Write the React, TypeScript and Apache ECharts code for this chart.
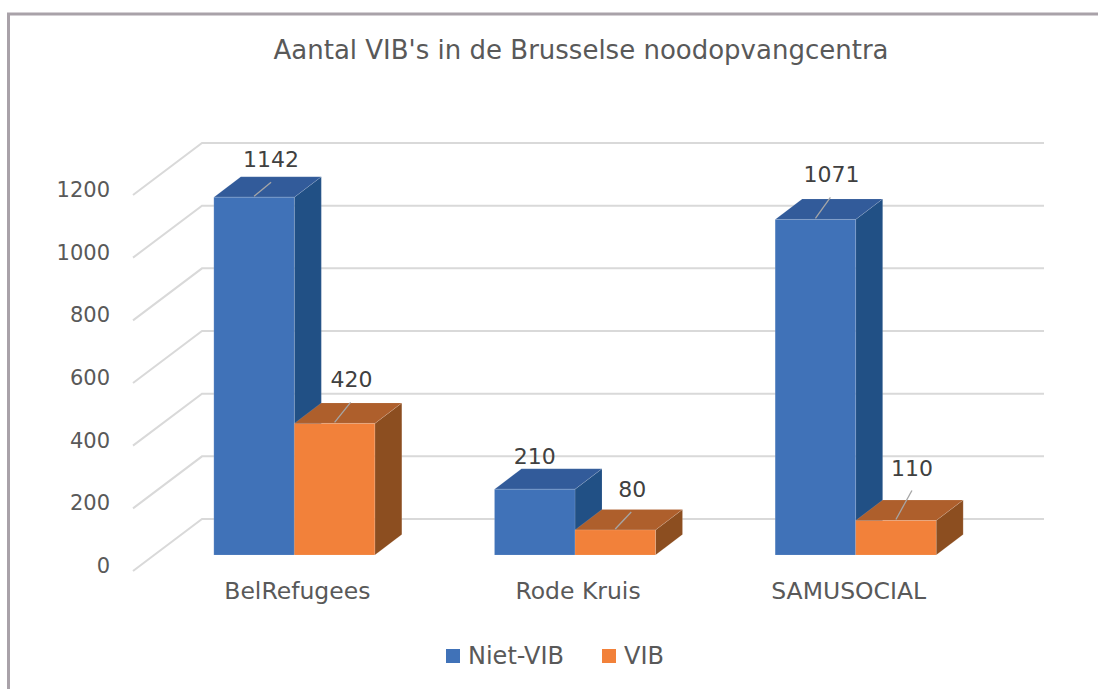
import React, { useEffect, useRef } from "react";
import * as echarts from "echarts";

const titleText = "Aantal VIB's in de Brusselse noodopvangcentra";
const categories = ["BelRefugees", "Rode Kruis", "SAMUSOCIAL"];
const nietVib = [1142, 210, 1071];
const vib = [420, 80, 110];
const yTicks = [0, 200, 400, 600, 800, 1000, 1200];

// Layout of the fake 3D scene (pixels). The grid sits on the front edge of the
// floor, where the tick labels are; the wall and the bars are shifted up from it.
const FONT = "'DejaVu Sans', sans-serif";
const WALL_DY = -47; // back wall relative to the axis scale
const FRONT_DY = -11; // front plane of the bars relative to the axis scale
const DEPTH_X = 27;
const DEPTH_Y = 20.5;
const BAR_W = 80.5;
const WALL_DX = 48;
const WALL_W = 842;
const FLOOR_X = 69;
const FLOOR_Y = 52;

// label position / leader end, relative to the front top centre of each bar
const nietVibLabels = [
  { dx: 17, dy: -38, lx: 17, ly: -15 },
  { dx: 0, dy: -33, lx: 0, ly: 0 },
  { dx: 16, dy: -45, lx: 15, ly: -22 },
];
const vibLabels = [
  { dx: 17, dy: -44, lx: 16, ly: -21 },
  { dx: 17, dy: -40, lx: 16, ly: -18 },
  { dx: 16, dy: -52, lx: 16, ly: -30 },
];

function poly(points: number[][], fill: string) {
  return {
    type: "polygon",
    shape: { points },
    style: { fill, stroke: "rgba(255,255,255,0.12)", lineWidth: 1 },
    silent: true,
  };
}

function barRenderer(
  side: -1 | 1,
  front: string,
  right: string,
  top: string,
  labels: { dx: number; dy: number; lx: number; ly: number }[]
) {
  return (params: any, api: any) => {
    const i = api.value(0);
    const v = api.value(1);
    const [cx, yTop0] = api.coord([i, v]);
    const [, yBase0] = api.coord([i, 0]);
    const yTop = yTop0 + FRONT_DY;
    const yBase = yBase0 + FRONT_DY;
    const x0 = side < 0 ? cx - BAR_W : cx;
    const x1 = x0 + BAR_W;
    const mid = (x0 + x1) / 2;
    const l = labels[params.dataIndex];
    const children: any[] = [
      poly(
        [
          [x1, yTop],
          [x1 + DEPTH_X, yTop - DEPTH_Y],
          [x1 + DEPTH_X, yBase - DEPTH_Y],
          [x1, yBase],
        ],
        right
      ),
      poly(
        [
          [x0, yTop],
          [x0 + DEPTH_X, yTop - DEPTH_Y],
          [x1 + DEPTH_X, yTop - DEPTH_Y],
          [x1, yTop],
        ],
        top
      ),
      poly(
        [
          [x0, yTop],
          [x1, yTop],
          [x1, yBase],
          [x0, yBase],
        ],
        front
      ),
    ];
    if (l.lx !== 0 || l.ly !== 0) {
      children.push({
        type: "line",
        shape: { x1: mid, y1: yTop - 1, x2: mid + l.lx, y2: yTop + l.ly },
        style: { stroke: "#a6a6a6", lineWidth: 1.3 },
        silent: true,
      });
    }
    children.push({
      type: "text",
      z2: 10,
      style: {
        x: mid + l.dx,
        y: yTop + l.dy,
        text: String(v),
        fill: "#404040",
        font: `22px ${FONT}`,
        textAlign: "center",
        textVerticalAlign: "middle",
      },
      silent: true,
    });
    return { type: "group", children };
  };
}

function wallRenderer(_params: any, api: any) {
  const v = api.value(1);
  const y = api.coord([0, v])[1] + WALL_DY;
  const left = api.coord([0, 0])[0] - api.size([1, 0])[0] / 2 + WALL_DX;
  return {
    type: "polyline",
    shape: {
      points: [
        [left - FLOOR_X, y + FLOOR_Y],
        [left, y],
        [left + WALL_W, y],
      ],
    },
    style: { stroke: "#d9d9d9", lineWidth: 2, fill: "none" },
    silent: true,
  };
}

export default function App() {
  const ref = useRef<HTMLDivElement>(null);
  useEffect(() => {
    const chart = echarts.init(ref.current!, undefined, { renderer: "svg" });
    chart.setOption({
      animation: false,
      backgroundColor: "#ffffff",
      title: {
        text: titleText,
        left: 576,
        top: 32,
        textAlign: "center",
        textStyle: { fontFamily: FONT, fontSize: 26, fontWeight: "normal", color: "#595959" },
      },
      legend: {
        data: ["Niet-VIB", "VIB"],
        left: 441,
        top: 639,
        icon: "rect",
        itemWidth: 14,
        itemHeight: 14,
        itemGap: 38,
        textStyle: {
          fontFamily: FONT,
          fontSize: 24,
          color: "#595959",
          padding: [0, 0, 0, 3],
        },
      },
      grid: { left: 154, width: 842, top: 190, height: 376 },
      xAxis: {
        type: "category",
        data: categories,
        axisLine: { show: false },
        axisTick: { show: false },
        axisLabel: {
          margin: 13,
          fontFamily: FONT,
          fontSize: 23.5,
          color: "#595959",
          formatter: (name: string, index: number) =>
            index === 2 ? `{c|${name}}` : `{a|${name}}`,
          rich: {
            a: { fontFamily: FONT, fontSize: 23.5, color: "#595959", padding: [0, 0, 0, 6] },
            c: { fontFamily: FONT, fontSize: 23.5, color: "#595959", padding: [0, 14, 0, 0] },
          },
        },
      },
      yAxis: {
        type: "value",
        min: 0,
        max: 1200,
        interval: 200,
        splitLine: { show: false },
        axisLine: { show: false },
        axisTick: { show: false },
        axisLabel: {
          margin: 44,
          formatter: (v: number) => String(v),
          fontFamily: FONT,
          fontSize: 21,
          color: "#595959",
        },
      },
      graphic: [
        {
          type: "polyline",
          shape: { points: [[8.5, 689], [8.5, 14], [1098, 14]] },
          style: { stroke: "#a9a2a9", lineWidth: 3, fill: "none" },
          silent: true,
        },
      ],
      series: [
        {
          type: "custom",
          name: "wall",
          renderItem: wallRenderer,
          data: yTicks.map((t) => [0, t]),
          encode: { x: 0, y: 1 },
          silent: true,
          z: 1,
        },
        {
          type: "custom",
          name: "Niet-VIB",
          renderItem: barRenderer(-1, "#4072b8", "#215085", "#325b9a", nietVibLabels),
          data: nietVib.map((v, i) => [i, v]),
          encode: { x: 0, y: 1 },
          itemStyle: { color: "#4072b8" },
          z: 2,
        },
        {
          type: "custom",
          name: "VIB",
          renderItem: barRenderer(1, "#f2813a", "#8c4e20", "#ae5f2c", vibLabels),
          data: vib.map((v, i) => [i, v]),
          encode: { x: 0, y: 1 },
          itemStyle: { color: "#f2813a" },
          z: 3,
        },
      ],
    });
    return () => chart.dispose();
  }, []);
  return (
    <div
      ref={ref}
      style={{ position: "absolute", left: 0, top: 0, width: 1098, height: 689 }}
    />
  );
}
